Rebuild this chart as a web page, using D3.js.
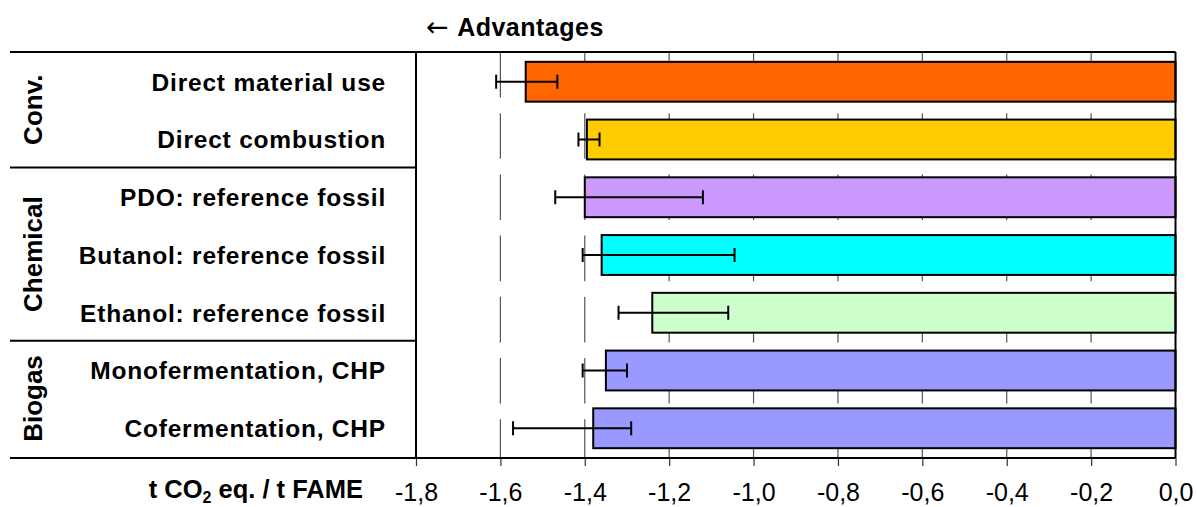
<!DOCTYPE html>
<html>
<head>
<meta charset="utf-8">
<script src="https://cdn.jsdelivr.net/npm/d3@7"></script>
<style>
  html, body { margin: 0; padding: 0; background: #fff; }
  svg { display: block; }
  text { font-family: "Liberation Sans", Arial, sans-serif; }
</style>
</head>
<body>
<svg id="chart" width="1197" height="507"></svg>
<script>
const categories = ["Direct material use", "Direct combustion", "PDO: reference fossil",
  "Butanol: reference fossil", "Ethanol: reference fossil", "Monofermentation, CHP", "Cofermentation, CHP"];
const values  = [-1.54, -1.395, -1.40, -1.36, -1.24, -1.35, -1.38];
const errLow  = [-1.61, -1.415, -1.47, -1.405, -1.32, -1.405, -1.57];
const errHigh = [-1.465, -1.365, -1.12, -1.045, -1.06, -1.30, -1.29];
const barColors = ["#FF6600", "#FFCC00", "#CC99FF", "#00FFFF", "#CCFFCC", "#9999FF", "#9999FF"];
const groupNames = ["Conv.", "Chemical", "Biogas"];
const groupSizes = [2, 3, 2];
const tickValues = [-1.8, -1.6, -1.4, -1.2, -1.0, -0.8, -0.6, -0.4, -0.2, 0.0];

(function () {
const svg = d3.select("#chart");
const pLeft = 416, pRight = 1175.5, pTop = 52, pBottom = 458, frameLeft = 10;

const x = d3.scaleLinear().domain([-1.8, 0]).range([pLeft, pRight]);
const y = d3.scaleBand().domain(categories).range([pTop, pBottom]).paddingInner(0.31).paddingOuter(0.17);

// gridlines
svg.append("g").selectAll("line").data(tickValues.slice(1, -1)).join("line")
  .attr("x1", d => x(d)).attr("x2", d => x(d))
  .attr("y1", pTop).attr("y2", pBottom)
  .attr("stroke", "#555").attr("stroke-width", 1.2)
  .attr("stroke-dasharray", "45.6 15.6");

// bars
svg.append("g").selectAll("rect").data(categories).join("rect")
  .attr("x", (d, i) => x(values[i]))
  .attr("y", d => y(d))
  .attr("width", (d, i) => x(0) - x(values[i]))
  .attr("height", y.bandwidth())
  .attr("fill", (d, i) => barColors[i])
  .attr("stroke", "#000").attr("stroke-width", 2);

// error bars
const eb = svg.append("g").attr("stroke", "#000").attr("stroke-width", 2);
categories.forEach((c, i) => {
  const cy = y(c) + y.bandwidth() / 2;
  eb.append("line").attr("x1", x(errLow[i])).attr("x2", x(errHigh[i])).attr("y1", cy).attr("y2", cy);
  [errLow[i], errHigh[i]].forEach(v => {
    eb.append("line").attr("x1", x(v)).attr("x2", x(v)).attr("y1", cy - 7).attr("y2", cy + 7);
  });
});

// x axis
const axis = d3.axisBottom(x).tickValues(tickValues).tickSize(8).tickPadding(14)
  .tickFormat(d => d3.format(".1f")(d).replace(".", ",").replace("\u2212", "-"));
const ax = svg.append("g").attr("transform", `translate(0,${pBottom})`).call(axis);
ax.select(".domain").remove();
ax.selectAll(".tick line").attr("stroke", "#333").attr("stroke-width", 1.2);
ax.selectAll(".tick text").attr("fill", "#000").attr("font-size", 25)
  .attr("font-family", "'Liberation Sans', Arial, sans-serif")
  .attr("y", 0).attr("dy", null)
  .attr("transform", "translate(0,43)");

// frame lines
const frame = svg.append("g").attr("stroke", "#000").attr("stroke-width", 2).attr("fill", "none");
frame.append("line").attr("x1", frameLeft).attr("x2", pRight).attr("y1", pTop).attr("y2", pTop);
frame.append("line").attr("x1", frameLeft).attr("x2", pRight).attr("y1", pBottom).attr("y2", pBottom);
frame.append("line").attr("x1", pLeft).attr("x2", pLeft).attr("y1", pTop).attr("y2", pBottom);
frame.append("line").attr("x1", pRight).attr("x2", pRight).attr("y1", pTop).attr("y2", pBottom);
let acc = 0;
const groupBounds = groupSizes.map(n => { const s = acc; acc += n; return [s, acc]; });
groupBounds.slice(0, -1).forEach(([s, e]) => {
  const yy = pTop + e * y.step();
  frame.append("line").attr("x1", frameLeft).attr("x2", pLeft).attr("y1", yy).attr("y2", yy);
});

// category labels
svg.append("g").selectAll("text").data(categories).join("text")
  .attr("x", 386).attr("y", d => y(d) + y.bandwidth() / 2)
  .attr("dy", "0.36em").attr("text-anchor", "end")
  .attr("font-size", 24.5).attr("font-weight", "bold").attr("letter-spacing", 0.8)
  .text(d => d);

// group labels
groupBounds.forEach(([s, e], gi) => {
  const cy = pTop + (s + e) / 2 * y.step();
  svg.append("text")
    .attr("transform", `translate(33,${cy}) rotate(-90)`)
    .attr("dy", "0.36em").attr("text-anchor", "middle")
    .attr("font-size", 26).attr("font-weight", "bold")
    .text(groupNames[gi]);
});

// title
const tt = svg.append("text").attr("x", 426).attr("y", 36)
  .attr("font-size", 25).attr("font-weight", "bold").attr("letter-spacing", 0.5);
tt.append("tspan").attr("font-family", "'DejaVu Sans', sans-serif").attr("font-weight", "normal")
  .attr("font-size", 27).text("\u2190");
tt.append("tspan").attr("dx", 8).text("Advantages");

// axis title
const at = svg.append("text").attr("x", 363).attr("y", 498).attr("text-anchor", "end")
  .attr("font-size", 25.5).attr("font-weight", "bold");
at.append("tspan").text("t CO");
at.append("tspan").attr("font-size", 16).attr("dy", 5).text("2");
at.append("tspan").attr("dy", -5).text(" eq. / t FAME");
})();
</script>
</body>
</html>
